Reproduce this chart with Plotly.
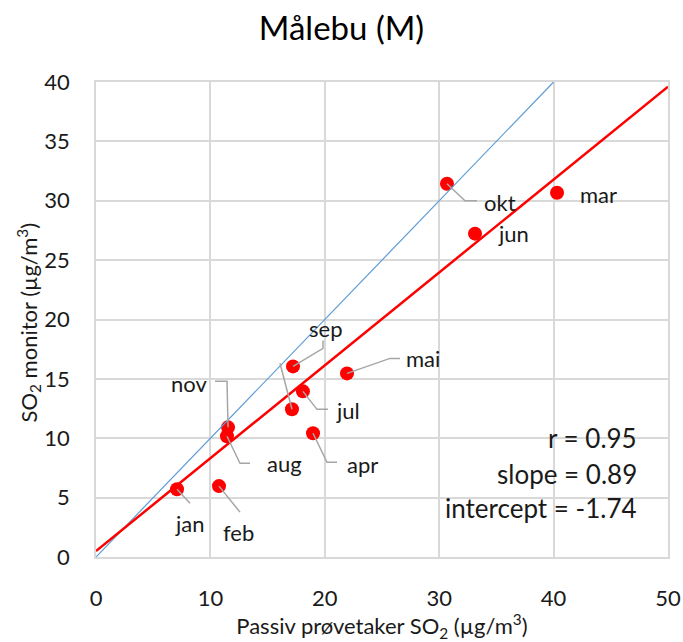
import plotly.graph_objects as go

# ---- data ----
months = ["jan", "feb", "mar", "apr", "mai", "jun", "jul", "aug", "sep", "okt", "nov", "des"]
passive = [7.08, 10.75, 40.3, 18.97, 21.94, 33.13, 18.09, 11.45, 17.22, 30.68, 11.54, 17.13]
monitor = [5.71, 5.97, 30.67, 10.42, 15.46, 27.23, 13.95, 10.17, 16.05, 31.43, 10.92, 12.44]
labels = ["jan", "feb", "mar", "apr", "mai", "jun", "jul", "aug", "sep", "okt", "nov", ""]

one_to_one_x = [0, 40]
one_to_one_y = [0, 40]
trend_x = [0, 50]
trend_y = [0.5, 39.6]

stats_lines = ["r = 0.95", "slope = 0.89", "intercept = -1.74"]

x_ticks = [0, 10, 20, 30, 40, 50]
y_ticks = [0, 5, 10, 15, 20, 25, 30, 35, 40]

# ---- layout geometry ----
W, H = 683, 642
ML, MR, MT, MB = 96, 15, 82, 85
XR = (0, 50)
YR = (0, 40)
PW = W - ML - MR
PH = H - MT - MB
sx = PW / (XR[1] - XR[0])
sy = PH / (YR[1] - YR[0])

def off(x, y, dx, dy):
    return x + dx / sx, y - dy / sy

# label offsets in pixels (dx, dy down) and leader polyline (pixel offsets)
label_place = {
    "jan": ((13, 34), [(0, 0), (13, 14)]),
    "feb": ((20, 46), [(0, 0), (21, 26)]),
    "mar": ((41, 2), None),
    "apr": ((49, 31), [(0, 0), (14, 29), (24, 29)]),
    "mai": ((76, -15), [(0, 0), (43, -15), (53, -15)]),
    "jun": ((38, 0), None),
    "jul": ((45, 19), [(0, 0), (14, 18), (25, 18)]),
    "aug": ((58, 27), [(0, 0), (13, 27), (23, 27)]),
    "sep": ((32, -38), [(0, 0), (30, -18), (30, -26)]),
    "okt": ((53, 19), [(0, 0), (18, 17), (30, 17)]),
    "nov": ((-39, -44), [(0, 0), (-1, -46), (-13, -46)]),
    "des": (None, [(0, 0), (-12, -46)]),
}

FONT = "Lato, 'Open Sans', sans-serif"
TXT = "#1a1a1a"
fig = go.Figure()

fig.add_trace(go.Scatter(
    x=passive, y=monitor, mode="markers",
    marker=dict(color="#ff0000", size=14, line=dict(width=0)),
    showlegend=False, hoverinfo="skip"))

fig.add_trace(go.Scatter(
    x=one_to_one_x, y=one_to_one_y, mode="lines",
    line=dict(color="#5b9bd5", width=1.2), showlegend=False, hoverinfo="skip"))

fig.add_trace(go.Scatter(
    x=trend_x, y=trend_y, mode="lines",
    line=dict(color="#ff0000", width=2.5), showlegend=False, hoverinfo="skip"))

annotations = []
for m, x, y, lab in zip(months, passive, monitor, labels):
    lpos, leader = label_place[m]
    if leader:
        xs, ys = [], []
        for dx, dy in leader:
            a, b = off(x, y, dx, dy)
            xs.append(a)
            ys.append(b)
        fig.add_trace(go.Scatter(
            x=xs, y=ys, mode="lines",
            line=dict(color="#a6a6a6", width=1.5),
            showlegend=False, hoverinfo="skip"))
    if lpos and lab:
        a, b = off(x, y, lpos[0], lpos[1])
        annotations.append(dict(
            x=a, y=b, xref="x", yref="y", text=lab, showarrow=False,
            font=dict(family=FONT, size=22, color=TXT),
            xanchor="center", yanchor="middle"))

# stats box
box_x0, box_y0 = off(0, 0, 315, -10)
box_x1, box_y1 = off(0, 0, 568, -150)
shapes = [dict(type="rect", xref="x", yref="y", x0=box_x0, y0=box_y0, x1=box_x1, y1=box_y1,
               fillcolor="white", line=dict(width=0), layer="below")]

stat_dy = [-119, -83, -49]
for txt, dy in zip(stats_lines, stat_dy):
    a, b = off(0, 0, 543, dy)
    annotations.append(dict(
        x=a, y=b, xref="x", yref="y", text=txt, showarrow=False,
        font=dict(family=FONT, size=26, color=TXT),
        xanchor="right", yanchor="middle"))

# y-axis title as rotated annotation
annotations.append(dict(
    x=-(ML - 28) / PW, y=0.5 - 3 / PH, xref="paper", yref="paper",
    text="SO<sub>2</sub> monitor (µg/m<sup>3</sup>)", textangle=-90, showarrow=False,
    font=dict(family=FONT, size=22, color=TXT), xanchor="center", yanchor="middle"))

axis_common = dict(
    showgrid=True, gridcolor="#d9d9d9", gridwidth=1.5,
    showline=True, linecolor="#d9d9d9", linewidth=1.5, mirror=True,
    zeroline=False, ticks="", automargin=False,
    tickfont=dict(family=FONT, size=22, color=TXT),
)

fig.update_layout(
    width=W, height=H,
    margin=dict(l=ML, r=MR, t=MT, b=MB, autoexpand=False),
    paper_bgcolor="white", plot_bgcolor="white",
    title=dict(text="Målebu (M)", x=0.5, xref="container", xanchor="center",
               y=1 - 28 / H, yref="container", yanchor="middle",
               font=dict(family=FONT, size=33, color="#000000")),
    xaxis=dict(range=list(XR), tickvals=x_ticks, ticklabelstandoff=21,
               title=dict(text="Passiv prøvetaker SO<sub>2</sub> (µg/m<sup>3</sup>)",
                          font=dict(family=FONT, size=22, color=TXT), standoff=10),
               **axis_common),
    yaxis=dict(range=list(YR), tickvals=y_ticks, ticklabelstandoff=20,
               **axis_common),
    annotations=annotations,
    shapes=shapes,
)

fig.write_html("out.html")
